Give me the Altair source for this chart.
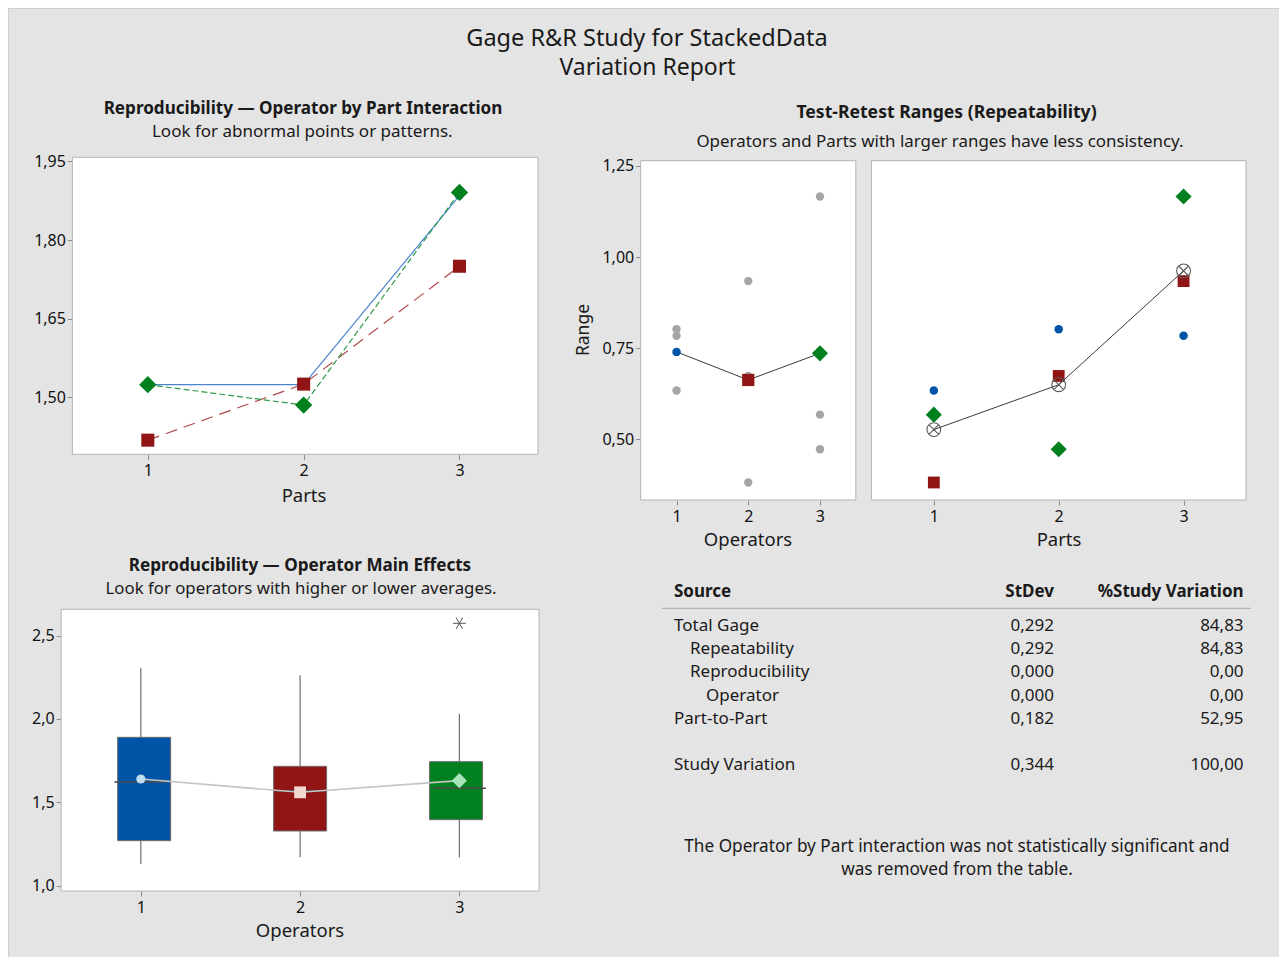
import altair as alt
import pandas as pd

FONT = "Noto Sans"
W, H = 1271, 949

# ---------------- data ----------------
operators = ["1", "2", "3"]
parts = [1, 2, 3]
op_colors = ["#0054a6", "#921515", "#00801f"]
op_line_colors = ["#4a84cc", "#b24a4a", "#2f9a48"]
op_light = ["#bcdcf0", "#f4d9d3", "#a6e4ba"]
op_shapes = ["circle", "square", "diamond"]

# Operator by Part interaction (averages)
avg_op1 = [1.524, 1.524, 1.885]
avg_op2 = [1.418, 1.525, 1.750]
avg_op3 = [1.524, 1.485, 1.891]

# Test-retest ranges: per operator, by part
range_op1 = [0.634, 0.802, 0.784]
range_op2 = [0.382, 0.674, 0.934]
range_op3 = [0.568, 0.473, 1.166]
range_mean_by_op = [0.740, 0.663, 0.736]
range_mean_by_part = [0.527, 0.650, 0.962]

# Operator main effects (box plot statistics)
box_q1 = [1.270, 1.328, 1.396]
box_q3 = [1.890, 1.716, 1.744]
box_median = [1.622, 1.570, 1.584]
box_low = [1.130, 1.170, 1.170]
box_high = [2.304, 2.262, 2.032]
box_mean = [1.640, 1.560, 1.630]
outlier_op = [3]
outlier_val = [2.574]

# Variation table
tbl_source = ["Total Gage", "Repeatability", "Reproducibility", "Operator",
              "Part-to-Part", "Study Variation"]
tbl_level = [0, 1, 1, 2, 0, 0]
tbl_row = [0, 1, 2, 3, 4, 6]
tbl_stdev = ["0,292", "0,292", "0,000", "0,000", "0,182", "0,344"]
tbl_pct = ["84,83", "84,83", "0,00", "0,00", "52,95", "100,00"]

# ---------------- panel geometry (chart pixel coordinates) ----------------
PANELS = {
    "A": dict(xd=[0.516, 3.504], xr=[64.4, 530.0], yd=[1.391, 1.958], yr=[446.3, 149.3]),
    "B1": dict(xd=[0.5, 3.5], xr=[632.7, 847.8], yd=[0.334, 1.264], yr=[492.0, 152.7]),
    "B2": dict(xd=[0.5, 3.5], xr=[863.4, 1238.0], yd=[0.334, 1.264], yr=[492.0, 152.7]),
    "C": dict(xd=[0.5, 3.5], xr=[53.2, 531.0], yd=[0.968, 2.658], yr=[883.0, 601.3]),
}
Y_TICKS = {"A": ([1.50, 1.65, 1.80, 1.95], ".2f"),
           "B1": ([0.50, 0.75, 1.00, 1.25], ".2f"),
           "C": ([1.0, 1.5, 2.0, 2.5], ".1f")}

AX = dict(grid=False, domain=False, ticks=True, tickSize=5, tickColor="#8a8a8a",
          labelFont=FONT, labelFontSize=16, labelColor="#111111",
          labelFlush=False, labelOverlap=False, title=None)


def X(field, panel, axis=False):
    p = PANELS[panel]
    ax = None
    if axis:
        ax = alt.Axis(orient="bottom", offset=p["yr"][0] - H, values=[1, 2, 3],
                      labelPadding=3, format="d", **AX)
    return alt.X(field, type="quantitative",
                 scale=alt.Scale(domain=p["xd"], range=p["xr"], nice=False, zero=False),
                 axis=ax)


def Y(field, panel, axis=False):
    p = PANELS[panel]
    ax = None
    if axis:
        vals, fmt = Y_TICKS[panel]
        ax = alt.Axis(orient="left", offset=-p["xr"][0], values=vals, labelPadding=2,
                      labelExpr="replace(format(datum.value, '%s'), '.', ',')" % fmt, **AX)
    return alt.Y(field, type="quantitative",
                 scale=alt.Scale(domain=p["yd"], range=p["yr"], nice=False, zero=False),
                 axis=ax)


def frame(panel, yaxis=True):
    p = PANELS[panel]
    df = pd.DataFrame({"x0": [p["xd"][0]], "x1": [p["xd"][1]],
                       "y0": [p["yd"][0]], "y1": [p["yd"][1]]})
    return alt.Chart(df).mark_rect(fill="white", stroke="#b4b4b4", strokeWidth=1).encode(
        x=X("x0", panel, axis=True), x2="x1",
        y=Y("y0", panel, axis=yaxis), y2="y1")


def op_points(df, xf, yf, panel, sizes, colors=op_colors):
    """One point layer per operator (drawn in operator order)."""
    out = []
    for op, col, shp, sz in zip(operators, colors, op_shapes, sizes):
        out.append(alt.Chart(df[df["Operator"] == op]).mark_point(
            filled=True, opacity=1, shape=shp, size=sz, color=col).encode(
            x=X(xf, panel), y=Y(yf, panel)))
    return out


layers = []

# ---------------- Panel A : interaction ----------------
inter = pd.DataFrame({
    "Operator": [o for o in operators for _ in parts],
    "Part": parts * 3,
    "Mean": avg_op1 + avg_op2 + avg_op3,
})
layers.append(frame("A"))
layers.append(alt.Chart(inter).mark_line(strokeWidth=1.2).encode(
    x=X("Part", "A"), y=Y("Mean", "A"),
    color=alt.Color("Operator:N", scale=alt.Scale(domain=operators, range=op_line_colors), legend=None),
    strokeDash=alt.StrokeDash("Operator:N", scale=alt.Scale(domain=operators, range=[[1, 0], [12, 7], [6, 3]]), legend=None),
))
layers += op_points(inter, "Part", "Mean", "A", [70, 170, 300])

# ---------------- Panel B1 : ranges by operator ----------------
rng = pd.DataFrame({
    "Operator": [o for o in operators for _ in parts],
    "OpNum": [int(o) for o in operators for _ in parts],
    "Part": parts * 3,
    "Range": range_op1 + range_op2 + range_op3,
})
rng_op = pd.DataFrame({"Operator": operators, "OpNum": [1, 2, 3], "Range": range_mean_by_op})
rng_part = pd.DataFrame({"Part": parts, "Range": range_mean_by_part})

layers.append(frame("B1"))
layers.append(alt.Chart(rng).mark_circle(color="#a5a5a5", opacity=1, size=70).encode(
    x=X("OpNum", "B1"), y=Y("Range", "B1")))
layers.append(alt.Chart(rng_op).mark_line(color="#3a3a3a", strokeWidth=1).encode(
    x=X("OpNum", "B1"), y=Y("Range", "B1")))
layers += op_points(rng_op, "OpNum", "Range", "B1", [72, 150, 260])

# ---------------- Panel B2 : ranges by part ----------------
OTIMES = ("M -1 0 A 1 1 0 1 0 1 0 A 1 1 0 1 0 -1 0 Z "
          "M -0.707 -0.707 L 0.707 0.707 M -0.707 0.707 L 0.707 -0.707")
layers.append(frame("B2", yaxis=False))
layers += op_points(rng, "Part", "Range", "B2", [72, 140, 260])
layers.append(alt.Chart(rng_part).mark_line(color="#3a3a3a", strokeWidth=1).encode(
    x=X("Part", "B2"), y=Y("Range", "B2")))
layers.append(alt.Chart(rng_part).mark_point(shape=OTIMES, filled=False, color="#5a5a5a",
                                             strokeWidth=1.1, size=190, opacity=1).encode(
    x=X("Part", "B2"), y=Y("Range", "B2")))

# ---------------- Panel C : operator main effects ----------------
box = pd.DataFrame({"Operator": operators, "OpNum": [1, 2, 3], "q1": box_q1, "q3": box_q3,
                    "med": box_median, "lo": box_low, "hi": box_high, "mean": box_mean})
outl = pd.DataFrame({"OpNum": outlier_op, "val": outlier_val})
ASTER = "M -1 0 L 1 0 M -0.5 -0.866 L 0.5 0.866 M -0.5 0.866 L 0.5 -0.866"

layers.append(frame("C"))
layers.append(alt.Chart(box).mark_rule(color="#6e6e6e", strokeWidth=1.2).encode(
    x=X("OpNum", "C"), y=Y("lo", "C"), y2="hi"))
layers.append(alt.Chart(box).mark_bar(size=53, stroke="#6e6e6e", strokeWidth=1, opacity=1).encode(
    x=X("OpNum", "C"), y=Y("q1", "C"), y2="q3",
    color=alt.Color("Operator:N", scale=alt.Scale(domain=operators, range=op_colors), legend=None)))
layers.append(alt.Chart(box).mark_tick(orient="horizontal", size=53, thickness=1.5,
                                       color="#4a4a4a", opacity=1).encode(
    x=X("OpNum", "C"), y=Y("med", "C")))
layers.append(alt.Chart(box).mark_line(color="#c4c4c4", strokeWidth=1.6).encode(
    x=X("OpNum", "C"), y=Y("mean", "C")))
layers += op_points(box, "OpNum", "mean", "C", [85, 140, 230], colors=op_light)
layers.append(alt.Chart(outl).mark_point(shape=ASTER, filled=False, color="#555555",
                                         strokeWidth=1, size=170, opacity=1).encode(
    x=X("OpNum", "C"), y=Y("val", "C")))


# ---------------- texts ----------------
def label(text, x, y, size, weight="normal", align="center", angle=0, color="#1a1a1a"):
    return alt.Chart(pd.DataFrame({"t": [text]})).mark_text(
        font=FONT, fontSize=size, fontWeight=weight, align=align, baseline="alphabetic",
        angle=angle, color=color).encode(text="t:N", x=alt.value(x), y=alt.value(y))


texts = [
    label("Gage R&R Study for StackedData", 639, 38, 23.5),
    label("Variation Report", 639.5, 67, 23),
    label("Reproducibility \u2014 Operator by Part Interaction", 295, 106, 17.1, "bold"),
    label("Look for abnormal points or patterns.", 294.3, 129.3, 17),
    label("Test-Retest Ranges (Repeatability)", 938.5, 110.3, 17.6, "bold"),
    label("Operators and Parts with larger ranges have less consistency.", 932, 138.5, 16.9),
    label("Reproducibility \u2014 Operator Main Effects", 292, 563, 17.1, "bold"),
    label("Look for operators with higher or lower averages.", 293, 586, 16.8),
    label("Parts", 296, 493.7, 18.5),
    label("Operators", 292, 929.3, 18.5),
    label("Operators", 740, 538, 18.5),
    label("Parts", 1051, 538, 18.5),
    label("Range", 581, 322, 17.5, angle=270),
    label("Source", 666, 589, 17, "bold", align="left"),
    label("StDev", 1046, 589, 17, "bold", align="right"),
    label("%Study Variation", 1235.6, 589, 17, "bold", align="right"),
    label("The Operator by Part interaction was not statistically significant and", 949, 844, 17.2),
    label("was removed from the table.", 949, 867, 17.2),
]
layers += texts

layers.append(alt.Chart(pd.DataFrame({"a": [0]})).mark_rule(color="#a8a8a8", strokeWidth=1).encode(
    x=alt.value(654), x2=alt.value(1243), y=alt.value(600.3)))

tbl = pd.DataFrame({"Source": tbl_source, "Level": tbl_level, "Row": tbl_row,
                    "StDev": tbl_stdev, "Pct": tbl_pct})
row_y = alt.Y("Row:Q", scale=alt.Scale(domain=[0, 6], range=[623, 762.3], nice=False, zero=False), axis=None)
layers.append(alt.Chart(tbl).mark_text(font=FONT, fontSize=17, align="left", baseline="alphabetic",
                                       color="#1a1a1a").encode(
    x=alt.X("Level:Q", scale=alt.Scale(domain=[0, 2], range=[666, 698], nice=False, zero=False), axis=None),
    y=row_y, text="Source:N"))
layers.append(alt.Chart(tbl).mark_text(font=FONT, fontSize=17, align="right", baseline="alphabetic",
                                       color="#1a1a1a").encode(
    x=alt.value(1046), y=row_y, text="StDev:N"))
layers.append(alt.Chart(tbl).mark_text(font=FONT, fontSize=17, align="right", baseline="alphabetic",
                                       color="#1a1a1a").encode(
    x=alt.value(1235.6), y=row_y, text="Pct:N"))

chart = alt.layer(*layers).resolve_scale(
    x="independent", y="independent", color="independent", strokeDash="independent"
).resolve_axis(x="independent", y="independent").properties(
    width=W, height=H, padding=0, autosize=alt.AutoSizeParams(type="none"),
    background="#e4e4e4"
).configure_view(fill="#e4e4e4", stroke="#cfcfcf")

chart.save("out.html", embed_options={"renderer": "svg", "actions": False})
